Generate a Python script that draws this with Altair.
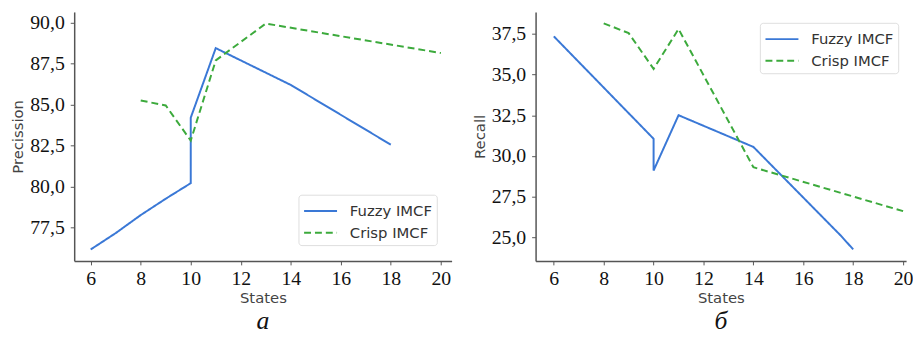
import altair as alt
import pandas as pd

fuzzy_p_x = [6, 7, 8, 9, 10, 10, 11, 14, 18]
fuzzy_p_y = [76.15, 77.15, 78.25, 79.25, 80.2, 84.2, 88.45, 86.2, 82.55]
crisp_p_x = [8, 9, 10, 11, 13, 20]
crisp_p_y = [85.25, 84.95, 82.8, 87.7, 89.95, 88.15]

fuzzy_r_x = [6, 10, 10, 11, 14, 17.5, 18]
fuzzy_r_y = [37.35, 31.05, 29.1, 32.5, 30.55, 25.1, 24.25]
crisp_r_x = [8, 9, 10, 11, 14, 20]
crisp_r_y = [38.15, 37.55, 35.35, 37.8, 29.3, 26.6]

series = ["Fuzzy IMCF", "Crisp IMCF"]
x_ticks = [6, 8, 10, 12, 14, 16, 18, 20]
p_ticks = [77.5, 80.0, 82.5, 85.0, 87.5, 90.0]
r_ticks = [25.0, 27.5, 30.0, 32.5, 35.0, 37.5]


def make_df(fx, fy, cx, cy):
    rows = []
    for i, (x, y) in enumerate(zip(fx, fy)):
        rows.append({"x": x, "y": y, "series": series[0], "i": i})
    for i, (x, y) in enumerate(zip(cx, cy)):
        rows.append({"x": x, "y": y, "series": series[1], "i": i})
    return pd.DataFrame(rows)


def panel(df, ytitle, xdomain, width, ydomain, yticks, caption, lx, ly):
    leg = alt.Legend(title=None, orient="none", legendX=lx, legendY=ly)
    return alt.Chart(df).mark_line(strokeWidth=2).encode(
        x=alt.X("x:Q", scale=alt.Scale(domain=xdomain, nice=False, zero=False),
                axis=alt.Axis(values=x_ticks, title="States", grid=False)),
        y=alt.Y("y:Q", scale=alt.Scale(domain=ydomain, nice=False, zero=False),
                axis=alt.Axis(values=yticks, title=ytitle, grid=False, labelPadding=6, titlePadding=4,
                              labelExpr="replace(format(datum.value, '.1f'), '.', ',')")),
        color=alt.Color("series:N", scale=alt.Scale(domain=series, range=["#3a78d6", "#3caa3c"]),
                        legend=leg),
        strokeDash=alt.StrokeDash("series:N", scale=alt.Scale(domain=series, range=[[1, 0], [7, 4]]),
                                  legend=leg),
        order="i:Q",
    ).properties(
        width=width, height=252,
        title=alt.TitleParams(caption, orient="bottom", font="Liberation Serif", fontStyle="italic",
                              fontSize=26, fontWeight="normal", color="#111", offset=3),
    )


left = panel(make_df(fuzzy_p_x, fuzzy_p_y, crisp_p_x, crisp_p_y), "Precission",
             [5.34, 20.43], 382, [75.45, 90.66], p_ticks, "а", 227, 185)
right = panel(make_df(fuzzy_r_x, fuzzy_r_y, crisp_r_x, crisp_r_y), "Recall",
              [5.27, 20.12], 375, [23.54, 38.85], r_ticks, "б", 227, 11)

chart = alt.hconcat(left, right, spacing=21).resolve_legend(
    color="independent", strokeDash="independent"
).resolve_scale(color="independent", strokeDash="independent").properties(
    padding={"left": 3, "top": 2, "right": 0, "bottom": 0}
).configure_view(stroke=None).configure_axis(
    labelFont="Liberation Serif", labelFontSize=20, labelColor="#111",
    titleFont="DejaVu Sans", titleFontSize=15, titleFontWeight="normal", titleColor="#444",
    domainColor="#555", domainWidth=1.5, tickColor="#555", tickSize=4, labelPadding=4,
    titlePadding=2,
).configure_legend(
    labelFont="DejaVu Sans", labelFontSize=15, labelColor="#333",
    strokeColor="#ddd", fillColor="white", padding=4, cornerRadius=3,
    symbolType="M-0.94,0L1.96,0", symbolSize=529, symbolStrokeWidth=2, rowPadding=1,
    labelOffset=23,
)

chart.save("out.html", embed_options={"renderer": "svg", "actions": False})
